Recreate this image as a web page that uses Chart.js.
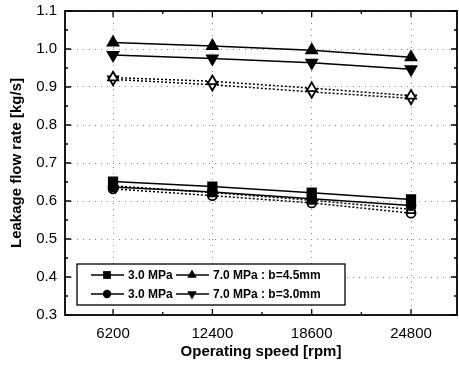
<!DOCTYPE html>
<html>
<head>
<meta charset="utf-8">
<script src="https://cdn.jsdelivr.net/npm/chart.js@4.4.1/dist/chart.umd.min.js"></script>
<style>
  html, body { margin: 0; padding: 0; background: #fff; overflow: hidden; }
  #wrap { width: 459px; height: 366px; position: relative; overflow: hidden; }
  #c { position: absolute; left: 0; top: 0; }
</style>
</head>
<body>
<div id="wrap"><canvas id="c" width="465" height="366"></canvas></div>
<script>
// ---- data ----
const speeds = [6200, 12400, 18600, 24800];
const xMinorTicks = [9300, 15500, 21700];
const yMajorTicks = [0.3, 0.4, 0.5, 0.6, 0.7, 0.8, 0.9, 1.0, 1.1];
const yMinorTicks = [0.35, 0.45, 0.55, 0.65, 0.75, 0.85, 0.95, 1.05];

// solid lines, filled markers
const p3_b45 = [0.651, 0.638, 0.622, 0.604];   // 3.0 MPa : b=4.5mm (square)
const p3_b30 = [0.637, 0.624, 0.606, 0.588];   // 3.0 MPa : b=3.0mm (circle)
const p7_b45 = [1.017, 1.008, 0.997, 0.978];   // 7.0 MPa : b=4.5mm (triangle up)
const p7_b30 = [0.984, 0.975, 0.964, 0.947];   // 7.0 MPa : b=3.0mm (triangle down)
// dotted lines, open markers
const p3_b45_open = [0.640, 0.622, 0.602, 0.578];
const p3_b30_open = [0.632, 0.614, 0.595, 0.568];
const p7_b45_open = [0.925, 0.915, 0.897, 0.877];
const p7_b30_open = [0.920, 0.906, 0.887, 0.870];

const legendRows = [
  [{label: '3.0 MPa', style: 'rect', rot: 0}, {label: '7.0 MPa : b=4.5mm', style: 'triangle', rot: 0}],
  [{label: '3.0 MPa', style: 'circle', rot: 0}, {label: '7.0 MPa : b=3.0mm', style: 'triangle', rot: 180}]
];

const FONT = '"Liberation Sans", Arial, Helvetica, sans-serif';

function pts(arr) { return speeds.map((s, i) => ({x: s, y: arr[i]})); }

function ds(label, arr, style, rot, radius, filled, dashed) {
  return {
    label: label,
    data: pts(arr),
    borderColor: '#000',
    borderWidth: 1.5,
    borderDash: dashed ? [2, 2] : [],
    pointStyle: style,
    rotation: rot,
    pointRotation: rot,
    pointRadius: radius,
    pointBorderWidth: 1.8,
    pointBorderColor: '#000',
    pointBackgroundColor: filled ? '#000' : '#fff',
    fill: false,
    tension: 0
  };
}

const datasets = [
  ds('3.0 MPa : b=4.5mm', p3_b45, 'rect', 0, 6, true, false),
  ds('3.0 MPa : b=3.0mm', p3_b30, 'circle', 0, 4.5, true, false),
  ds('7.0 MPa : b=4.5mm', p7_b45, 'triangle', 0, 6.2, true, false),
  ds('7.0 MPa : b=3.0mm', p7_b30, 'triangle', 180, 6.2, true, false),
  ds('3.0 MPa : b=4.5mm (dotted)', p3_b45_open, 'rect', 0, 5.2, false, true),
  ds('3.0 MPa : b=3.0mm (dotted)', p3_b30_open, 'circle', 0, 4.5, false, true),
  ds('7.0 MPa : b=4.5mm (dotted)', p7_b45_open, 'triangle', 0, 5.8, false, true),
  ds('7.0 MPa : b=3.0mm (dotted)', p7_b30_open, 'triangle', 180, 5.8, false, true)
];

function marker(ctx, style, x, y, r, rot) {
  ctx.save();
  ctx.translate(x, y);
  ctx.rotate(rot * Math.PI / 180);
  ctx.beginPath();
  if (style === 'rect') {
    const s = r * Math.SQRT1_2;
    ctx.rect(-s, -s, 2 * s, 2 * s);
  } else if (style === 'circle') {
    ctx.arc(0, 0, r, 0, Math.PI * 2);
  } else {
    ctx.moveTo(0, -r);
    ctx.lineTo(r * Math.sin(Math.PI / 3), r * 0.5);
    ctx.lineTo(-r * Math.sin(Math.PI / 3), r * 0.5);
    ctx.closePath();
  }
  ctx.fillStyle = '#000';
  ctx.fill();
  ctx.restore();
}

function zeroPad(scale) {
  scale.paddingLeft = 0; scale.paddingRight = 0;
  scale.paddingTop = 0; scale.paddingBottom = 0;
}

const framePlugin = {
  id: 'frame',
  afterDraw(chart) {
    const {ctx, chartArea: a, scales: {x, y}} = chart;
    ctx.save();
    ctx.strokeStyle = '#000';
    ctx.lineWidth = 1.8;
    ctx.strokeRect(a.left, a.top, a.right - a.left, a.bottom - a.top);
    ctx.lineWidth = 1.3;
    ctx.beginPath();
    speeds.forEach(v => {
      const px = x.getPixelForValue(v);
      ctx.moveTo(px, a.bottom); ctx.lineTo(px, a.bottom - 6);
      ctx.moveTo(px, a.top); ctx.lineTo(px, a.top + 6);
    });
    xMinorTicks.forEach(v => {
      const px = x.getPixelForValue(v);
      ctx.moveTo(px, a.bottom); ctx.lineTo(px, a.bottom - 3);
      ctx.moveTo(px, a.top); ctx.lineTo(px, a.top + 3);
    });
    yMajorTicks.forEach(v => {
      const py = y.getPixelForValue(v);
      ctx.moveTo(a.left, py); ctx.lineTo(a.left + 6, py);
      ctx.moveTo(a.right, py); ctx.lineTo(a.right - 6, py);
    });
    yMinorTicks.forEach(v => {
      const py = y.getPixelForValue(v);
      ctx.moveTo(a.left, py); ctx.lineTo(a.left + 3, py);
      ctx.moveTo(a.right, py); ctx.lineTo(a.right - 3, py);
    });
    ctx.stroke();

    // legend box
    const bx = 77, by = 264, bw = 268, bh = 41;
    ctx.fillStyle = '#fff';
    ctx.fillRect(bx, by, bw, bh);
    ctx.lineWidth = 1.3;
    ctx.strokeRect(bx, by, bw, bh);
    ctx.font = 'bold 12px ' + FONT;
    ctx.textBaseline = 'middle';
    ctx.textAlign = 'left';
    const rowY = [275, 294];
    const cols = [{l0: 91, l1: 124, m: 107, t: 128}, {l0: 176, l1: 209, m: 192, t: 213}];
    legendRows.forEach((row, ri) => {
      row.forEach((item, ci) => {
        const c = cols[ci], yy = rowY[ri];
        ctx.lineWidth = 1.3;
        ctx.beginPath();
        ctx.moveTo(c.l0, yy); ctx.lineTo(c.l1, yy);
        ctx.stroke();
        const r = item.style === 'rect' ? 5.5 : (item.style === 'circle' ? 4.2 : 5.5);
        marker(ctx, item.style, c.m, yy, r, item.rot);
        ctx.fillStyle = '#000';
        ctx.fillText(item.label, c.t, yy + 0.5);
      });
    });
    ctx.restore();
  }
};

new Chart(document.getElementById('c'), {
  type: 'line',
  data: { datasets: datasets },
  plugins: [framePlugin],
  options: {
    responsive: false,
    animation: false,
    devicePixelRatio: 1,
    layout: { padding: { top: 11, right: 2, left: 0, bottom: 0 } },
    plugins: { legend: { display: false }, tooltip: { enabled: false } },
    scales: {
      x: {
        type: 'linear',
        min: 3200,
        max: 27670,
        afterBuildTicks(scale) { scale.ticks = speeds.map(v => ({value: v})); },
        afterFit(scale) { scale.height = 51; zeroPad(scale); },
        border: { display: false, dash: [1, 5] },
        grid: { display: true, drawTicks: false, color: '#8a8a8a', lineWidth: 1 },
        ticks: {
          padding: 10,
          maxRotation: 0,
          autoSkip: false,
          color: '#000',
          font: { family: FONT, size: 15 },
          callback: v => String(v)
        },
        title: {
          display: true,
          text: 'Operating speed [rpm]',
          color: '#000',
          font: { family: FONT, size: 15, weight: 'bold' },
          padding: { top: 0, bottom: 5 }
        }
      },
      y: {
        type: 'linear',
        min: 0.3,
        max: 1.1,
        afterBuildTicks(scale) { scale.ticks = yMajorTicks.map(v => ({value: v})); },
        afterFit(scale) { scale.width = 65; zeroPad(scale); },
        border: { display: false, dash: [1, 5] },
        grid: { display: true, drawTicks: false, color: '#8a8a8a', lineWidth: 1 },
        ticks: {
          padding: 8,
          color: '#000',
          font: { family: FONT, size: 15 },
          callback: v => Number(v).toFixed(1)
        },
        title: {
          display: true,
          text: 'Leakage flow rate [kg/s]',
          color: '#000',
          font: { family: FONT, size: 15, weight: 'bold' },
          padding: { top: 8, bottom: 0 }
        }
      }
    }
  }
});
</script>
</body>
</html>
